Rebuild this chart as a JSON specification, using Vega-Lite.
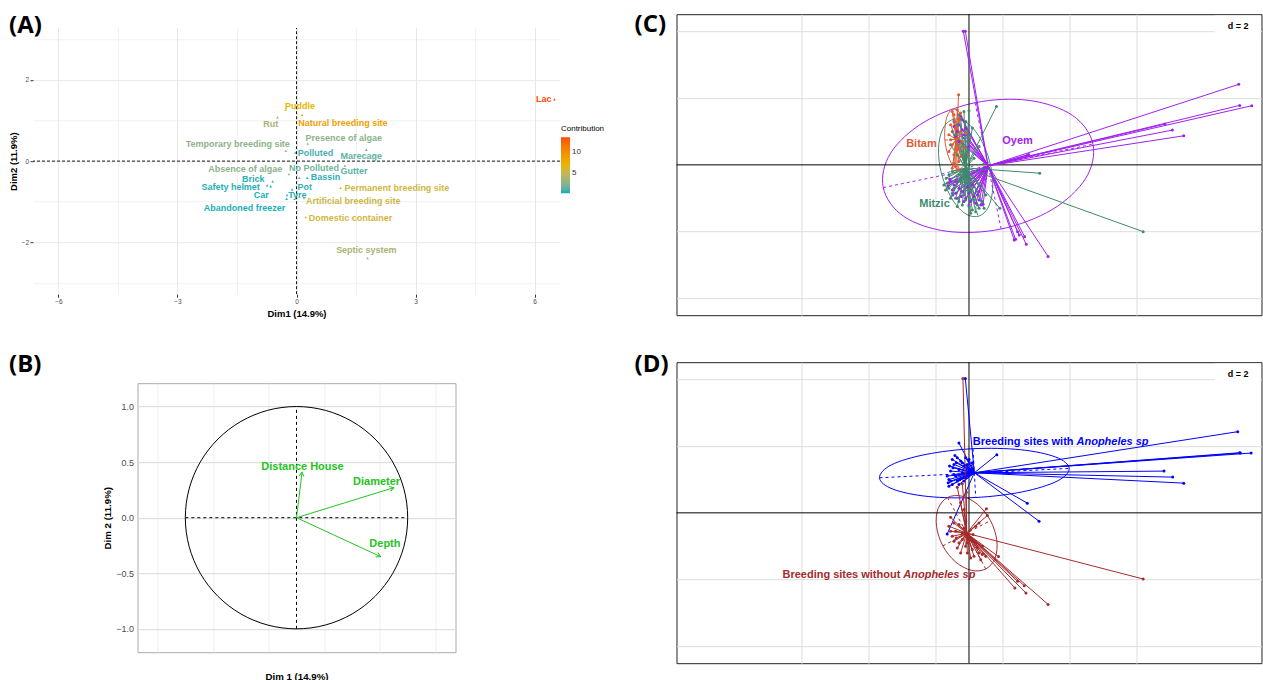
{
  "$schema": "https://vega.github.io/schema/vega-lite/v6.json",
  "padding": {"left": 8, "top": 12.2, "right": 0, "bottom": 0},
  "background": "white",
  "config": {
    "font": "Liberation Sans",
    "view": {"stroke": null},
    "title": {"font": "Open Sans", "fontSize": 24, "fontWeight": "bold", "color": "#000000", "anchor": "start", "frame": "group", "baseline": "alphabetic", "offset": 0}
  },
  "spacing": 28.5,
  "bounds": "full",
  "resolve": {"scale": {"x": "independent", "y": "independent", "color": "independent"}, "legend": {"color": "independent"}},
  "datasets": {
    "varsA": [
      {"name": "Lac", "x": 6.5, "y": 1.52, "lx": 6.23, "ly": 1.52, "contrib": 13.6},
      {"name": "Puddle", "x": -0.27, "y": 1.27, "lx": 0.09, "ly": 1.37, "contrib": 7.0},
      {"name": "Rut", "x": -0.48, "y": 1.08, "lx": -0.65, "ly": 0.92, "contrib": 3.5},
      {"name": "Natural breeding site", "x": 0.14, "y": 1.14, "lx": 1.17, "ly": 0.95, "contrib": 8.8},
      {"name": "Presence of algae", "x": 0.28, "y": 0.43, "lx": 1.19, "ly": 0.56, "contrib": 2.6},
      {"name": "Temporary breeding site", "x": -0.27, "y": 0.25, "lx": -1.48, "ly": 0.41, "contrib": 2.6},
      {"name": "Polluted", "x": -0.03, "y": 0.21, "lx": 0.48, "ly": 0.2, "contrib": 0.8},
      {"name": "Marecage", "x": 1.76, "y": 0.28, "lx": 1.63, "ly": 0.12, "contrib": 1.3},
      {"name": "Absence of algae", "x": -0.19, "y": -0.32, "lx": -1.29, "ly": -0.2, "contrib": 2.5},
      {"name": "No Polluted", "x": 0.07, "y": -0.41, "lx": 0.44, "ly": -0.17, "contrib": 1.8},
      {"name": "Gutter", "x": 1.22, "y": -0.11, "lx": 1.45, "ly": -0.25, "contrib": 1.2},
      {"name": "Bassin", "x": 0.27, "y": -0.41, "lx": 0.73, "ly": -0.4, "contrib": 0.5},
      {"name": "Brick", "x": -0.6, "y": -0.5, "lx": -1.09, "ly": -0.45, "contrib": 0.4},
      {"name": "Safety helmet", "x": -0.74, "y": -0.6, "lx": -1.66, "ly": -0.65, "contrib": 0.4},
      {"name": "Car", "x": -0.65, "y": -0.62, "lx": -0.89, "ly": -0.84, "contrib": 0.3},
      {"name": "Pot", "x": -0.11, "y": -0.7, "lx": 0.21, "ly": -0.65, "contrib": 0.6},
      {"name": "Tyre", "x": -0.24, "y": -0.84, "lx": 0.02, "ly": -0.84, "contrib": 0.4},
      {"name": "Abandoned freezer", "x": -0.25, "y": -0.93, "lx": -1.31, "ly": -1.16, "contrib": 0.3},
      {"name": "Artificial breeding site", "x": 0.19, "y": -0.91, "lx": 1.43, "ly": -0.99, "contrib": 5.4},
      {"name": "Permanent breeding site", "x": 1.11, "y": -0.66, "lx": 2.53, "ly": -0.66, "contrib": 5.6},
      {"name": "Domestic container", "x": 0.23, "y": -1.38, "lx": 1.36, "ly": -1.4, "contrib": 5.8},
      {"name": "Septic system", "x": 1.79, "y": -2.39, "lx": 1.76, "ly": -2.2, "contrib": 3.6}
    ],
    "circleB": [
      {"i": 0, "x": 1, "y": 0}, {"i": 1, "x": 0.9659, "y": 0.2588}, {"i": 2, "x": 0.866, "y": 0.5},
      {"i": 3, "x": 0.7071, "y": 0.7071}, {"i": 4, "x": 0.5, "y": 0.866}, {"i": 5, "x": 0.2588, "y": 0.9659},
      {"i": 6, "x": 0, "y": 1}, {"i": 7, "x": -0.2588, "y": 0.9659}, {"i": 8, "x": -0.5, "y": 0.866},
      {"i": 9, "x": -0.7071, "y": 0.7071}, {"i": 10, "x": -0.866, "y": 0.5}, {"i": 11, "x": -0.9659, "y": 0.2588},
      {"i": 12, "x": -1, "y": 0}, {"i": 13, "x": -0.9659, "y": -0.2588}, {"i": 14, "x": -0.866, "y": -0.5},
      {"i": 15, "x": -0.7071, "y": -0.7071}, {"i": 16, "x": -0.5, "y": -0.866}, {"i": 17, "x": -0.2588, "y": -0.9659},
      {"i": 18, "x": 0, "y": -1}, {"i": 19, "x": 0.2588, "y": -0.9659}, {"i": 20, "x": 0.5, "y": -0.866},
      {"i": 21, "x": 0.7071, "y": -0.7071}, {"i": 22, "x": 0.866, "y": -0.5}, {"i": 23, "x": 0.9659, "y": -0.2588}
    ],
    "arrowsB": [
      {"v": "Distance House", "x": 0.05, "y": 0.41, "lx": 0.054, "ly": 0.46},
      {"v": "Diameter", "x": 0.875, "y": 0.27, "lx": 0.72, "ly": 0.317},
      {"v": "Depth", "x": 0.756, "y": -0.35, "lx": 0.795, "ly": -0.235}
    ],
    "sitesC": [
      {"g": "Oyem", "x": -0.17, "y": 4.0}, {"g": "Oyem", "x": -0.11, "y": 4.0}, {"g": "Oyem", "x": 8.05, "y": 2.41},
      {"g": "Oyem", "x": 8.08, "y": 1.78}, {"g": "Oyem", "x": 8.44, "y": 1.77}, {"g": "Oyem", "x": 5.85, "y": 1.22},
      {"g": "Oyem", "x": 6.07, "y": 1.04}, {"g": "Oyem", "x": 6.41, "y": 0.87}, {"g": "Oyem", "x": 1.73, "y": 0.28},
      {"g": "Oyem", "x": 1.78, "y": 0.31}, {"g": "Oyem", "x": 1.39, "y": -2.23}, {"g": "Oyem", "x": 1.71, "y": -2.38},
      {"g": "Oyem", "x": 1.66, "y": -2.15}, {"g": "Oyem", "x": 1.45, "y": -2.0}, {"g": "Oyem", "x": 2.36, "y": -2.74},
      {"g": "Oyem", "x": 1.5, "y": -2.1}, {"g": "Oyem", "x": 1.35, "y": -2.25},
      {"g": "Oyem", "x": -0.63, "y": -0.63}, {"g": "Oyem", "x": -0.55, "y": -0.5}, {"g": "Oyem", "x": -0.5, "y": -0.75},
      {"g": "Oyem", "x": -0.4, "y": -0.85}, {"g": "Oyem", "x": -0.3, "y": -0.7}, {"g": "Oyem", "x": -0.23, "y": -0.95},
      {"g": "Oyem", "x": -0.1, "y": -1.0}, {"g": "Oyem", "x": 0.05, "y": -1.1}, {"g": "Oyem", "x": 0.1, "y": -0.6},
      {"g": "Oyem", "x": 0.2, "y": -1.15}, {"g": "Oyem", "x": 0.25, "y": -0.9}, {"g": "Oyem", "x": 0.35, "y": -1.2},
      {"g": "Oyem", "x": 0.42, "y": -1.18}, {"g": "Oyem", "x": -0.45, "y": -0.6}, {"g": "Oyem", "x": -0.2, "y": -0.8},
      {"g": "Oyem", "x": 0.0, "y": -0.85}, {"g": "Oyem", "x": -0.3, "y": 1.2}, {"g": "Oyem", "x": -0.2, "y": 1.35},
      {"g": "Oyem", "x": -0.35, "y": 1.0}, {"g": "Oyem", "x": -0.15, "y": 0.9}, {"g": "Oyem", "x": 0.0, "y": 0.55},
      {"g": "Oyem", "x": -0.25, "y": 1.45}, {"g": "Oyem", "x": -0.1, "y": 1.1},
      {"g": "Oyem", "x": -0.58, "y": -0.42}, {"g": "Oyem", "x": -0.38, "y": -0.5}, {"g": "Oyem", "x": 0.3, "y": -1.05},
      {"g": "Oyem", "x": -0.6, "y": -0.55}, {"g": "Oyem", "x": -0.48, "y": -0.9}, {"g": "Oyem", "x": -0.35, "y": -1.0},
      {"g": "Oyem", "x": -0.15, "y": -1.1}, {"g": "Oyem", "x": 0.0, "y": -1.2}, {"g": "Oyem", "x": 0.15, "y": -0.95},
      {"g": "Oyem", "x": 0.3, "y": -0.8}, {"g": "Oyem", "x": -0.05, "y": -0.65}, {"g": "Oyem", "x": -0.4, "y": 0.85},
      {"g": "Oyem", "x": -0.3, "y": 0.7}, {"g": "Oyem", "x": -0.2, "y": 1.05}, {"g": "Oyem", "x": -0.45, "y": 1.15},
      {"g": "Mitzic", "x": 0.82, "y": 1.75}, {"g": "Mitzic", "x": 2.11, "y": -0.25}, {"g": "Mitzic", "x": 5.2, "y": -2.0},
      {"g": "Mitzic", "x": 0.92, "y": -1.3}, {"g": "Mitzic", "x": -0.75, "y": -0.6}, {"g": "Mitzic", "x": -0.68, "y": -0.4},
      {"g": "Mitzic", "x": -0.6, "y": -0.7}, {"g": "Mitzic", "x": -0.5, "y": -0.85}, {"g": "Mitzic", "x": -0.4, "y": -1.0},
      {"g": "Mitzic", "x": -0.3, "y": -1.1}, {"g": "Mitzic", "x": -0.2, "y": -1.2}, {"g": "Mitzic", "x": -0.1, "y": -1.05},
      {"g": "Mitzic", "x": 0.0, "y": -1.25}, {"g": "Mitzic", "x": 0.1, "y": -1.35}, {"g": "Mitzic", "x": 0.2, "y": -1.4},
      {"g": "Mitzic", "x": 0.3, "y": -1.3}, {"g": "Mitzic", "x": 0.4, "y": -1.1}, {"g": "Mitzic", "x": -0.45, "y": 1.3},
      {"g": "Mitzic", "x": -0.3, "y": 1.5}, {"g": "Mitzic", "x": -0.15, "y": 1.6}, {"g": "Mitzic", "x": 0.0, "y": 1.62},
      {"g": "Mitzic", "x": -0.4, "y": 0.9}, {"g": "Mitzic", "x": -0.2, "y": 0.7}, {"g": "Mitzic", "x": 0.1, "y": 1.1},
      {"g": "Mitzic", "x": 0.3, "y": 0.55}, {"g": "Mitzic", "x": -0.35, "y": 0.3}, {"g": "Mitzic", "x": -0.5, "y": -0.2},
      {"g": "Mitzic", "x": -0.25, "y": -0.5}, {"g": "Mitzic", "x": 0.05, "y": -0.8}, {"g": "Mitzic", "x": -0.55, "y": 0.6},
      {"g": "Mitzic", "x": 0.5, "y": -0.9}, {"g": "Mitzic", "x": 0.3, "y": -0.6}, {"g": "Mitzic", "x": 0.15, "y": 0.2},
      {"g": "Mitzic", "x": -0.1, "y": -0.3}, {"g": "Mitzic", "x": -0.65, "y": -0.55}, {"g": "Mitzic", "x": -0.45, "y": -0.7},
      {"g": "Mitzic", "x": -0.15, "y": -0.9}, {"g": "Mitzic", "x": 0.15, "y": -1.05}, {"g": "Mitzic", "x": -0.35, "y": 1.2},
      {"g": "Mitzic", "x": -0.7, "y": -0.75}, {"g": "Mitzic", "x": -0.55, "y": -1.0}, {"g": "Mitzic", "x": -0.35, "y": -1.25},
      {"g": "Mitzic", "x": 0.05, "y": -1.45}, {"g": "Mitzic", "x": 0.25, "y": -1.2}, {"g": "Mitzic", "x": 0.45, "y": -1.3},
      {"g": "Mitzic", "x": -0.25, "y": 1.4}, {"g": "Mitzic", "x": -0.1, "y": 1.3}, {"g": "Mitzic", "x": -0.5, "y": 1.0},
      {"g": "Mitzic", "x": 0.0, "y": 0.9}, {"g": "Mitzic", "x": -0.3, "y": -0.3}, {"g": "Mitzic", "x": -0.6, "y": -0.3},
      {"g": "Bitam", "x": -0.31, "y": 2.1}, {"g": "Bitam", "x": -0.35, "y": 1.65}, {"g": "Bitam", "x": -0.45, "y": 1.5},
      {"g": "Bitam", "x": -0.3, "y": 1.4}, {"g": "Bitam", "x": -0.55, "y": 1.2}, {"g": "Bitam", "x": -0.4, "y": 1.1},
      {"g": "Bitam", "x": -0.25, "y": 1.0}, {"g": "Bitam", "x": -0.6, "y": 0.9}, {"g": "Bitam", "x": -0.35, "y": 0.8},
      {"g": "Bitam", "x": -0.5, "y": 0.6}, {"g": "Bitam", "x": -0.2, "y": 0.7}, {"g": "Bitam", "x": -0.45, "y": 0.3},
      {"g": "Bitam", "x": -0.3, "y": 0.1}, {"g": "Bitam", "x": -0.5, "y": -0.1}, {"g": "Bitam", "x": -0.35, "y": -0.15},
      {"g": "Bitam", "x": -0.6, "y": 0.4}, {"g": "Bitam", "x": -0.15, "y": 0.5}, {"g": "Bitam", "x": -0.1, "y": 0.95},
      {"g": "Bitam", "x": -0.42, "y": 1.3}, {"g": "Bitam", "x": -0.28, "y": 0.45}, {"g": "Bitam", "x": -0.4, "y": -0.05},
      {"g": "Bitam", "x": -0.5, "y": 1.6}, {"g": "Bitam", "x": -0.25, "y": 1.55}, {"g": "Bitam", "x": -0.55, "y": 0.75},
      {"g": "Bitam", "x": -0.25, "y": 0.25}, {"g": "Bitam", "x": -0.45, "y": 0.05}
    ],
    "centC": [
      {"g": "Bitam", "cx": -0.38, "cy": 0.77},
      {"g": "Mitzic", "cx": -0.1, "cy": -0.09},
      {"g": "Oyem", "cx": 0.57, "cy": -0.03}
    ],
    "ellC": [
      {"g": "Oyem", "i": 0, "x": 3.7, "y": 0.62}, {"g": "Oyem", "i": 1, "x": 3.09, "y": 1.48}, {"g": "Oyem", "i": 2, "x": 1.79, "y": 1.93},
      {"g": "Oyem", "i": 3, "x": 0.18, "y": 1.86}, {"g": "Oyem", "i": 4, "x": -1.34, "y": 1.28}, {"g": "Oyem", "i": 5, "x": -2.34, "y": 0.35},
      {"g": "Oyem", "i": 6, "x": -2.56, "y": -0.68}, {"g": "Oyem", "i": 7, "x": -1.95, "y": -1.54}, {"g": "Oyem", "i": 8, "x": -0.65, "y": -1.99},
      {"g": "Oyem", "i": 9, "x": 0.96, "y": -1.92}, {"g": "Oyem", "i": 10, "x": 2.48, "y": -1.34}, {"g": "Oyem", "i": 11, "x": 3.48, "y": -0.41},
      {"g": "Bitam", "i": 0, "x": -0.46, "y": 1.67}, {"g": "Bitam", "i": 1, "x": -0.62, "y": 1.53}, {"g": "Bitam", "i": 2, "x": -0.71, "y": 1.19},
      {"g": "Bitam", "i": 3, "x": -0.72, "y": 0.74}, {"g": "Bitam", "i": 4, "x": -0.63, "y": 0.3}, {"g": "Bitam", "i": 5, "x": -0.48, "y": -0.02},
      {"g": "Bitam", "i": 6, "x": -0.3, "y": -0.13}, {"g": "Bitam", "i": 7, "x": -0.14, "y": 0.01}, {"g": "Bitam", "i": 8, "x": -0.05, "y": 0.35},
      {"g": "Bitam", "i": 9, "x": -0.04, "y": 0.8}, {"g": "Bitam", "i": 10, "x": -0.13, "y": 1.24}, {"g": "Bitam", "i": 11, "x": -0.28, "y": 1.56},
      {"g": "Mitzic", "i": 0, "x": -0.47, "y": 1.36}, {"g": "Mitzic", "i": 1, "x": -0.78, "y": 1.08}, {"g": "Mitzic", "i": 2, "x": -0.91, "y": 0.48},
      {"g": "Mitzic", "i": 3, "x": -0.82, "y": -0.27}, {"g": "Mitzic", "i": 4, "x": -0.53, "y": -0.98}, {"g": "Mitzic", "i": 5, "x": -0.14, "y": -1.44},
      {"g": "Mitzic", "i": 6, "x": 0.27, "y": -1.54}, {"g": "Mitzic", "i": 7, "x": 0.58, "y": -1.26}, {"g": "Mitzic", "i": 8, "x": 0.71, "y": -0.66},
      {"g": "Mitzic", "i": 9, "x": 0.62, "y": 0.09}, {"g": "Mitzic", "i": 10, "x": 0.33, "y": 0.8}, {"g": "Mitzic", "i": 11, "x": -0.06, "y": 1.26}
    ],
    "axC": [
      {"g": "Oyem", "x": -2.56, "y": -0.68, "x2": 3.7, "y2": 0.62},
      {"g": "Oyem", "x": 0.96, "y": -1.92, "x2": 0.18, "y2": 1.86},
      {"g": "Bitam", "x": -0.3, "y": -0.13, "x2": -0.46, "y2": 1.67},
      {"g": "Bitam", "x": -0.72, "y": 0.74, "x2": -0.04, "y2": 0.8},
      {"g": "Mitzic", "x": -0.47, "y": 1.36, "x2": 0.27, "y2": -1.54},
      {"g": "Mitzic", "x": -0.82, "y": -0.27, "x2": 0.62, "y2": 0.09}
    ],
    "labC": [
      {"g": "Bitam", "x": -1.42, "y": 0.61},
      {"g": "Oyem", "x": 1.45, "y": 0.72},
      {"g": "Mitzic", "x": -1.03, "y": -1.17}
    ],
    "sitesD": [
      {"g": "with", "x": -0.11, "y": 4.02}, {"g": "with", "x": 8.02, "y": 2.43}, {"g": "with", "x": 8.08, "y": 1.8},
      {"g": "with", "x": 8.1, "y": 1.79}, {"g": "with", "x": 8.42, "y": 1.79}, {"g": "with", "x": 5.82, "y": 1.25},
      {"g": "with", "x": 6.08, "y": 1.07}, {"g": "with", "x": 6.41, "y": 0.89}, {"g": "with", "x": 1.74, "y": 0.29},
      {"g": "with", "x": 2.09, "y": -0.25}, {"g": "with", "x": 0.83, "y": 1.74}, {"g": "with", "x": -0.3, "y": 2.09},
      {"g": "with", "x": -0.42, "y": 1.72}, {"g": "with", "x": -0.65, "y": -0.63}, {"g": "with", "x": -0.6, "y": 1.0},
      {"g": "with", "x": -0.55, "y": 1.25}, {"g": "with", "x": -0.5, "y": 0.85}, {"g": "with", "x": -0.45, "y": 1.45},
      {"g": "with", "x": -0.4, "y": 1.1}, {"g": "with", "x": -0.35, "y": 0.95}, {"g": "with", "x": -0.3, "y": 1.3},
      {"g": "with", "x": -0.25, "y": 1.55}, {"g": "with", "x": -0.2, "y": 1.2}, {"g": "with", "x": -0.15, "y": 1.4},
      {"g": "with", "x": -0.1, "y": 1.05}, {"g": "with", "x": 0.0, "y": 1.6}, {"g": "with", "x": 0.05, "y": 1.3},
      {"g": "with", "x": -0.6, "y": 0.8}, {"g": "with", "x": -0.5, "y": 1.6}, {"g": "with", "x": 0.1, "y": 1.5},
      {"g": "with", "x": -0.35, "y": 1.65}, {"g": "with", "x": -0.62, "y": 0.9}, {"g": "with", "x": -0.45, "y": 1.15},
      {"g": "with", "x": -0.28, "y": 1.0}, {"g": "with", "x": -0.05, "y": 1.45},
      {"g": "with", "x": -0.65, "y": 1.1}, {"g": "with", "x": -0.55, "y": 0.95}, {"g": "with", "x": -0.48, "y": 1.35},
      {"g": "with", "x": -0.38, "y": 1.5}, {"g": "with", "x": -0.3, "y": 0.85}, {"g": "with", "x": -0.15, "y": 0.95},
      {"g": "with", "x": -0.1, "y": 1.65}, {"g": "with", "x": 0.0, "y": 1.15}, {"g": "with", "x": -0.58, "y": 1.4},
      {"g": "with", "x": -0.2, "y": 1.5},
      {"g": "without", "x": -0.18, "y": 4.02}, {"g": "without", "x": 5.2, "y": -1.98}, {"g": "without", "x": 2.36, "y": -2.74},
      {"g": "without", "x": 1.37, "y": -2.25}, {"g": "without", "x": 1.7, "y": -2.4}, {"g": "without", "x": 1.65, "y": -2.18},
      {"g": "without", "x": 1.45, "y": -2.05}, {"g": "without", "x": 0.52, "y": 0.12}, {"g": "without", "x": 0.55, "y": -0.08},
      {"g": "without", "x": 0.88, "y": -1.31}, {"g": "without", "x": -0.55, "y": -0.13}, {"g": "without", "x": -0.35, "y": 0.77},
      {"g": "without", "x": -0.2, "y": 0.87}, {"g": "without", "x": -0.08, "y": 0.62}, {"g": "without", "x": -0.6, "y": -0.4},
      {"g": "without", "x": -0.5, "y": -0.7}, {"g": "without", "x": -0.4, "y": -0.55}, {"g": "without", "x": -0.3, "y": -0.9},
      {"g": "without", "x": -0.2, "y": -0.6}, {"g": "without", "x": -0.1, "y": -1.0}, {"g": "without", "x": 0.0, "y": -0.8},
      {"g": "without", "x": 0.1, "y": -1.1}, {"g": "without", "x": 0.2, "y": -0.9}, {"g": "without", "x": 0.3, "y": -1.2},
      {"g": "without", "x": 0.4, "y": -1.0}, {"g": "without", "x": 0.35, "y": -1.4}, {"g": "without", "x": 0.5, "y": -1.3},
      {"g": "without", "x": -0.45, "y": -0.3}, {"g": "without", "x": 0.2, "y": -0.4}, {"g": "without", "x": 0.3, "y": -0.3},
      {"g": "without", "x": -0.25, "y": -1.2}, {"g": "without", "x": 0.05, "y": -1.35}, {"g": "without", "x": -0.38, "y": -0.75},
      {"g": "without", "x": -0.15, "y": -0.45}, {"g": "without", "x": 0.12, "y": -0.65}, {"g": "without", "x": -0.05, "y": -1.2},
      {"g": "without", "x": -0.55, "y": -0.55}, {"g": "without", "x": -0.45, "y": -0.85}, {"g": "without", "x": -0.35, "y": -1.05},
      {"g": "without", "x": -0.2, "y": -0.8}, {"g": "without", "x": -0.05, "y": -0.9}, {"g": "without", "x": 0.1, "y": -0.85},
      {"g": "without", "x": 0.25, "y": -1.05}, {"g": "without", "x": 0.4, "y": -1.25}, {"g": "without", "x": -0.3, "y": -0.35},
      {"g": "without", "x": -0.1, "y": -0.25}, {"g": "without", "x": 0.15, "y": -1.3}, {"g": "without", "x": -0.25, "y": 0.3},
      {"g": "without", "x": -0.15, "y": 0.1}
    ],
    "centD": [
      {"g": "with", "cx": 0.16, "cy": 1.2},
      {"g": "without", "cx": -0.07, "cy": -0.61}
    ],
    "ellD": [
      {"g": "with", "i": 0, "x": 2.99, "y": 1.33}, {"g": "with", "i": 1, "x": 2.59, "y": 1.67}, {"g": "with", "i": 2, "x": 1.54, "y": 1.89},
      {"g": "with", "i": 3, "x": 0.12, "y": 1.92}, {"g": "with", "i": 4, "x": -1.28, "y": 1.75}, {"g": "with", "i": 5, "x": -2.31, "y": 1.44},
      {"g": "with", "i": 6, "x": -2.67, "y": 1.05}, {"g": "with", "i": 7, "x": -2.27, "y": 0.71}, {"g": "with", "i": 8, "x": -1.22, "y": 0.49},
      {"g": "with", "i": 9, "x": 0.2, "y": 0.46}, {"g": "with", "i": 10, "x": 1.6, "y": 0.63}, {"g": "with", "i": 11, "x": 2.63, "y": 0.95},
      {"g": "without", "i": 0, "x": -0.64, "y": 0.46}, {"g": "without", "i": 1, "x": -0.92, "y": 0.13}, {"g": "without", "i": 2, "x": -0.97, "y": -0.4},
      {"g": "without", "i": 3, "x": -0.78, "y": -0.99}, {"g": "without", "i": 4, "x": -0.4, "y": -1.47}, {"g": "without", "i": 5, "x": 0.07, "y": -1.72},
      {"g": "without", "i": 6, "x": 0.5, "y": -1.68}, {"g": "without", "i": 7, "x": 0.78, "y": -1.35}, {"g": "without", "i": 8, "x": 0.83, "y": -0.82},
      {"g": "without", "i": 9, "x": 0.64, "y": -0.23}, {"g": "without", "i": 10, "x": 0.26, "y": 0.25}, {"g": "without", "i": 11, "x": -0.21, "y": 0.5}
    ],
    "axD": [
      {"g": "with", "x": -2.67, "y": 1.05, "x2": 2.99, "y2": 1.33},
      {"g": "with", "x": 0.12, "y": 1.92, "x2": 0.2, "y2": 0.46},
      {"g": "without", "x": -0.64, "y": 0.46, "x2": 0.5, "y2": -1.68},
      {"g": "without", "x": -0.78, "y": -0.99, "x2": 0.64, "y2": -0.23}
    ],
    "labD": [
      {"g": "with", "t": "Breeding sites with", "part": "a", "x": 3.12, "y": 2.13},
      {"g": "with", "t": "Anopheles sp", "part": "b", "x": 3.21, "y": 2.13},
      {"g": "without", "t": "Breeding sites without", "part": "a", "x": -2.05, "y": -1.85},
      {"g": "without", "t": "Anopheles sp", "part": "b", "x": -1.96, "y": -1.85}
    ]
  },
  "hconcat": [
    {
      "spacing": 89,
      "bounds": "flush",
      "center": true,
      "resolve": {"scale": {"x": "independent", "y": "independent", "color": "independent"}, "legend": {"color": "independent"}},
      "vconcat": [
        {
          "width": 527,
          "height": 280,
          "view": {"stroke": null},
          "title": {"text": "(A)", "dx": -24, "dy": 28.0},
          "layer": [
            {
              "data": {"name": "varsA"},
              "mark": {"type": "point", "shape": "triangle-up", "filled": true, "size": 7, "opacity": 1},
              "encoding": {
                "x": {
                  "field": "x", "type": "quantitative", "title": "Dim1 (14.9%)",
                  "scale": {"domain": [-6.64, 6.64], "nice": false, "zero": false},
                  "axis": {
                    "values": [-6, -4.5, -3, -1.5, 0, 1.5, 3, 4.5, 6], "format": "d", "grid": true,
                    "labelExpr": "datum.value % 3 === 0 ? datum.label : ''",
                    "domain": false, "tickSize": 3, "tickColor": "#333333",
                    "tickOpacity": {"condition": {"test": "datum.value % 3 !== 0", "value": 0}, "value": 1},
                    "labelFontSize": 6.5, "labelColor": "#4d4d4d", "labelPadding": 1.5, "labelFlush": false,
                    "gridColor": "#e8e8e8",
                    "gridWidth": {"condition": {"test": "datum.value % 3 !== 0", "value": 0.6}, "value": 1},
                    "titleFontSize": 9.5, "titleFontWeight": "bold", "titleColor": "#000000", "titlePadding": 3
                  }
                },
                "y": {
                  "field": "y", "type": "quantitative", "title": "Dim2 (11.9%)",
                  "scale": {"domain": [-3.28, 3.62], "nice": false, "zero": false},
                  "axis": {
                    "values": [-3, -2, -1, 0, 1, 2, 3], "format": "d", "grid": true,
                    "labelExpr": "datum.value % 2 === 0 ? datum.label : ''",
                    "domain": false, "tickSize": 3, "tickColor": "#333333",
                    "tickOpacity": {"condition": {"test": "datum.value % 2 !== 0", "value": 0}, "value": 1},
                    "labelFontSize": 6.5, "labelColor": "#4d4d4d", "labelPadding": 1.5, "labelFlush": false,
                    "gridColor": "#e8e8e8",
                    "gridWidth": {"condition": {"test": "datum.value % 2 !== 0", "value": 0.6}, "value": 1},
                    "titleFontSize": 9.5, "titleFontWeight": "bold", "titleColor": "#000000", "titlePadding": 3,
                    "titleY": 147
                  }
                },
                "color": {
                  "field": "contrib", "type": "quantitative", "title": "Contribution",
                  "scale": {"domain": [0.2, 6.9, 13.6], "range": ["#00AFBB", "#E7B800", "#FC4E07"], "interpolate": "lab"},
                  "legend": {
                    "orient": "none", "legendX": 528, "legendY": 111,
                    "values": [5, 10], "gradientLength": 56, "gradientThickness": 9,
                    "labelFontSize": 8, "titleFontSize": 8, "titleFontWeight": "normal",
                    "labelColor": "#333333", "titleColor": "#000000", "titlePadding": 4,
                    "gradientStrokeWidth": 0
                  }
                }
              }
            },
            {
              "data": {"values": [{}]},
              "mark": {"type": "rect", "fill": "white"},
              "encoding": {"x": {"datum": -6.64}, "x2": {"datum": 6.64}, "y": {"datum": 3.28}, "y2": {"datum": 3.62}}
            },
            {
              "data": {"values": [{}]},
              "mark": {"type": "rule", "strokeDash": [3, 2], "color": "#000000", "strokeWidth": 0.9},
              "encoding": {"x": {"datum": 0}, "y": {"datum": -3.28}, "y2": {"datum": 3.28}}
            },
            {
              "data": {"values": [{}]},
              "mark": {"type": "rule", "strokeDash": [3, 2], "color": "#000000", "strokeWidth": 0.9},
              "encoding": {"y": {"datum": 0}}
            },
            {
              "data": {"name": "varsA"},
              "mark": {"type": "text", "fontSize": 9, "fontWeight": "bold", "align": "center", "baseline": "middle"},
              "encoding": {
                "x": {"field": "lx", "type": "quantitative", "title": "Dim1 (14.9%)"},
                "y": {"field": "ly", "type": "quantitative", "title": "Dim2 (11.9%)"},
                "text": {"field": "name"},
                "color": {"field": "contrib", "type": "quantitative", "title": "Contribution"}
              }
            }
          ]
        },
        {
          "width": 318,
          "height": 269,
          "view": {"stroke": "#aaaaaa", "strokeWidth": 1},
          "title": {"text": "(B)", "dx": -128.5, "dy": -2.4},
          "layer": [
            {
              "data": {"name": "circleB"},
              "mark": {"type": "line", "interpolate": "cardinal-closed", "color": "#000000", "strokeWidth": 1},
              "encoding": {
                "x": {
                  "field": "x", "type": "quantitative", "title": "Dim 1 (14.9%)",
                  "scale": {"domain": [-1.43, 1.43], "nice": false, "zero": false},
                  "axis": {
                    "values": [-1.25, -1, -0.75, -0.5, -0.25, 0, 0.25, 0.5, 0.75, 1, 1.25], "format": ".1f", "grid": true,
                    "labelExpr": "abs(datum.value * 2 - round(datum.value * 2)) > 0.01 ? '' : datum.label",
                    "domain": false, "ticks": false, "labelFontSize": 9, "labelColor": "#4d4d4d", "labelPadding": 4, "labelFlush": false,
                    "gridColor": {"condition": {"test": "abs(datum.value * 2 - round(datum.value * 2)) > 0.01", "value": "#e6e6e6"}, "value": "#d9d9d9"},
                    "gridWidth": {"condition": {"test": "abs(datum.value * 2 - round(datum.value * 2)) > 0.01", "value": 0.7}, "value": 1},
                    "titleFontSize": 9.7, "titleFontWeight": "bold", "titleColor": "#000000", "titlePadding": 6
                  }
                },
                "y": {
                  "field": "y", "type": "quantitative", "title": "Dim 2 (11.9%)",
                  "scale": {"domain": [-1.21, 1.21], "nice": false, "zero": false},
                  "axis": {
                    "values": [-1, -0.75, -0.5, -0.25, 0, 0.25, 0.5, 0.75, 1], "format": ".1f", "grid": true,
                    "labelExpr": "abs(datum.value * 2 - round(datum.value * 2)) > 0.01 ? '' : datum.label",
                    "domain": false, "ticks": false, "labelFontSize": 9, "labelColor": "#4d4d4d", "labelPadding": 4, "labelFlush": false,
                    "gridColor": {"condition": {"test": "abs(datum.value * 2 - round(datum.value * 2)) > 0.01", "value": "#e6e6e6"}, "value": "#d9d9d9"},
                    "gridWidth": {"condition": {"test": "abs(datum.value * 2 - round(datum.value * 2)) > 0.01", "value": 0.7}, "value": 1},
                    "titleFontSize": 9.7, "titleFontWeight": "bold", "titleColor": "#000000", "titlePadding": 3
                  }
                },
                "order": {"field": "i", "type": "quantitative"}
              }
            },
            {
              "data": {"values": [{}]},
              "mark": {"type": "rule", "strokeDash": [3, 3], "color": "#000000", "strokeWidth": 1},
              "encoding": {"x": {"datum": -1}, "x2": {"datum": 1}, "y": {"datum": 0}}
            },
            {
              "data": {"values": [{}]},
              "mark": {"type": "rule", "strokeDash": [3, 3], "color": "#000000", "strokeWidth": 1},
              "encoding": {"y": {"datum": -1}, "y2": {"datum": 1}, "x": {"datum": 0}}
            },
            {
              "data": {"name": "arrowsB"},
              "mark": {"type": "rule", "color": "#22C322", "strokeWidth": 1},
              "encoding": {
                "x": {"field": "x", "type": "quantitative", "title": "Dim 1 (14.9%)"},
                "y": {"field": "y", "type": "quantitative", "title": "Dim 2 (11.9%)"},
                "x2": {"datum": 0},
                "y2": {"datum": 0}
              }
            },
            {
              "data": {"name": "arrowsB"},
              "mark": {"type": "point", "shape": "M-0.7,1.2L0,0L0.7,1.2", "filled": false, "color": "#22C322", "strokeWidth": 1, "size": 50, "opacity": 1},
              "encoding": {
                "x": {"field": "x", "type": "quantitative", "title": "Dim 1 (14.9%)"},
                "y": {"field": "y", "type": "quantitative", "title": "Dim 2 (11.9%)"},
                "angle": {"field": "v", "type": "nominal", "scale": {"type": "ordinal", "domain": ["Distance House", "Diameter", "Depth"], "range": [7, 72.9, 114.8]}, "legend": null}
              }
            },
            {
              "data": {"name": "arrowsB"},
              "mark": {"type": "text", "fontSize": 11, "fontWeight": "bold", "color": "#22C322", "align": "center", "baseline": "middle"},
              "encoding": {
                "x": {"field": "lx", "type": "quantitative", "title": "Dim 1 (14.9%)"},
                "y": {"field": "ly", "type": "quantitative", "title": "Dim 2 (11.9%)"},
                "text": {"field": "v"}
              }
            }
          ]
        }
      ]
    },
    {
      "spacing": 47,
      "bounds": "flush",
      "resolve": {"scale": {"x": "independent", "y": "independent", "color": "independent"}},
      "vconcat": [
        {
          "width": 585,
          "height": 301,
          "view": {"stroke": "#222222", "strokeWidth": 1},
          "title": {"text": "(C)", "dx": -42, "dy": 27.4},
          "layer": [
            {
              "data": {"name": "ellC"},
              "mark": {"type": "line", "interpolate": "cardinal-closed", "strokeWidth": 1},
              "encoding": {
                "x": {
                  "field": "x", "type": "quantitative",
                  "scale": {"domain": [-8.73, 8.73], "nice": false, "zero": false},
                  "axis": {"values": [-5, -3, -1, 1, 3, 5], "labels": false, "ticks": false, "domain": false, "title": null, "grid": true, "gridColor": "#dddddd", "gridWidth": 1}
                },
                "y": {
                  "field": "y", "type": "quantitative",
                  "scale": {"domain": [-4.5, 4.51], "nice": false, "zero": false},
                  "axis": {"values": [-4, -2, 2, 4], "labels": false, "ticks": false, "domain": false, "title": null, "grid": true, "gridColor": "#dddddd", "gridWidth": 1}
                },
                "color": {"field": "g", "type": "nominal", "scale": {"domain": ["Bitam", "Mitzic", "Oyem"], "range": ["#DB5C37", "#3D8A6C", "#A020F0"]}, "legend": null},
                "order": {"field": "i", "type": "quantitative"}
              }
            },
            {
              "data": {"values": [{}]},
              "mark": {"type": "rule", "color": "#000000", "strokeWidth": 1},
              "encoding": {"x": {"datum": 0}}
            },
            {
              "data": {"values": [{}]},
              "mark": {"type": "rule", "color": "#000000", "strokeWidth": 1},
              "encoding": {"y": {"datum": 0}}
            },
            {
              "data": {"name": "axC"},
              "mark": {"type": "rule", "strokeDash": [3, 3], "strokeWidth": 1},
              "encoding": {
                "x": {"field": "x", "type": "quantitative"},
                "y": {"field": "y", "type": "quantitative"},
                "x2": {"field": "x2"},
                "y2": {"field": "y2"},
                "color": {"field": "g", "type": "nominal"}
              }
            },
            {
              "data": {"name": "sitesC"},
              "transform": [{"lookup": "g", "from": {"data": {"name": "centC"}, "key": "g", "fields": ["cx", "cy"]}}],
              "mark": {"type": "rule", "strokeWidth": 1},
              "encoding": {
                "x": {"field": "x", "type": "quantitative"},
                "y": {"field": "y", "type": "quantitative"},
                "x2": {"field": "cx"},
                "y2": {"field": "cy"},
                "color": {"field": "g", "type": "nominal"}
              }
            },
            {
              "data": {"name": "sitesC"},
              "mark": {"type": "circle", "size": 9, "opacity": 1},
              "encoding": {
                "x": {"field": "x", "type": "quantitative"},
                "y": {"field": "y", "type": "quantitative"},
                "color": {"field": "g", "type": "nominal"}
              }
            },
            {
              "data": {"name": "labC"},
              "mark": {"type": "text", "fontSize": 11, "fontWeight": "bold", "align": "center", "baseline": "middle"},
              "encoding": {
                "x": {"field": "x", "type": "quantitative"},
                "y": {"field": "y", "type": "quantitative"},
                "text": {"field": "g"},
                "color": {"field": "g", "type": "nominal"}
              }
            },
            {
              "data": {"values": [{}]},
              "mark": {"type": "rect", "fill": "white"},
              "encoding": {"x": {"datum": 7.33}, "x2": {"datum": 8.7}, "y": {"datum": 3.85}, "y2": {"datum": 4.47}}
            },
            {
              "data": {"values": [{}]},
              "mark": {"type": "text", "text": "d = 2", "fontSize": 9, "fontWeight": "bold", "color": "#000000", "align": "center", "baseline": "middle"},
              "encoding": {"x": {"datum": 8.03}, "y": {"datum": 4.17}}
            }
          ]
        },
        {
          "width": 585,
          "height": 301,
          "view": {"stroke": "#222222", "strokeWidth": 1},
          "title": {"text": "(D)", "dx": -42, "dy": 19.4},
          "layer": [
            {
              "data": {"name": "ellD"},
              "mark": {"type": "line", "interpolate": "cardinal-closed", "strokeWidth": 1},
              "encoding": {
                "x": {
                  "field": "x", "type": "quantitative",
                  "scale": {"domain": [-8.73, 8.73], "nice": false, "zero": false},
                  "axis": {"values": [-5, -3, -1, 1, 3, 5], "labels": false, "ticks": false, "domain": false, "title": null, "grid": true, "gridColor": "#dddddd", "gridWidth": 1}
                },
                "y": {
                  "field": "y", "type": "quantitative",
                  "scale": {"domain": [-4.5, 4.51], "nice": false, "zero": false},
                  "axis": {"values": [-4, -2, 2, 4], "labels": false, "ticks": false, "domain": false, "title": null, "grid": true, "gridColor": "#dddddd", "gridWidth": 1}
                },
                "color": {"field": "g", "type": "nominal", "scale": {"domain": ["with", "without"], "range": ["#0000FF", "#A52A2A"]}, "legend": null},
                "order": {"field": "i", "type": "quantitative"}
              }
            },
            {
              "data": {"values": [{}]},
              "mark": {"type": "rule", "color": "#000000", "strokeWidth": 1},
              "encoding": {"x": {"datum": 0}}
            },
            {
              "data": {"values": [{}]},
              "mark": {"type": "rule", "color": "#000000", "strokeWidth": 1},
              "encoding": {"y": {"datum": 0}}
            },
            {
              "data": {"name": "axD"},
              "mark": {"type": "rule", "strokeDash": [3, 3], "strokeWidth": 1},
              "encoding": {
                "x": {"field": "x", "type": "quantitative"},
                "y": {"field": "y", "type": "quantitative"},
                "x2": {"field": "x2"},
                "y2": {"field": "y2"},
                "color": {"field": "g", "type": "nominal"}
              }
            },
            {
              "data": {"name": "sitesD"},
              "transform": [{"lookup": "g", "from": {"data": {"name": "centD"}, "key": "g", "fields": ["cx", "cy"]}}],
              "mark": {"type": "rule", "strokeWidth": 1},
              "encoding": {
                "x": {"field": "x", "type": "quantitative"},
                "y": {"field": "y", "type": "quantitative"},
                "x2": {"field": "cx"},
                "y2": {"field": "cy"},
                "color": {"field": "g", "type": "nominal"}
              }
            },
            {
              "data": {"name": "sitesD"},
              "mark": {"type": "circle", "size": 9, "opacity": 1},
              "encoding": {
                "x": {"field": "x", "type": "quantitative"},
                "y": {"field": "y", "type": "quantitative"},
                "color": {"field": "g", "type": "nominal"}
              }
            },
            {
              "data": {"name": "labD"},
              "transform": [{"filter": "datum.part === 'a'"}],
              "mark": {"type": "text", "fontSize": 11, "fontWeight": "bold", "align": "right", "baseline": "middle"},
              "encoding": {
                "x": {"field": "x", "type": "quantitative"},
                "y": {"field": "y", "type": "quantitative"},
                "text": {"field": "t"},
                "color": {"field": "g", "type": "nominal"}
              }
            },
            {
              "data": {"name": "labD"},
              "transform": [{"filter": "datum.part === 'b'"}],
              "mark": {"type": "text", "fontSize": 11, "fontWeight": "bold", "fontStyle": "italic", "align": "left", "baseline": "middle"},
              "encoding": {
                "x": {"field": "x", "type": "quantitative"},
                "y": {"field": "y", "type": "quantitative"},
                "text": {"field": "t"},
                "color": {"field": "g", "type": "nominal"}
              }
            },
            {
              "data": {"values": [{}]},
              "mark": {"type": "rect", "fill": "white"},
              "encoding": {"x": {"datum": 7.33}, "x2": {"datum": 8.7}, "y": {"datum": 3.85}, "y2": {"datum": 4.47}}
            },
            {
              "data": {"values": [{}]},
              "mark": {"type": "text", "text": "d = 2", "fontSize": 9, "fontWeight": "bold", "color": "#000000", "align": "center", "baseline": "middle"},
              "encoding": {"x": {"datum": 8.03}, "y": {"datum": 4.17}}
            }
          ]
        }
      ]
    }
  ]
}
